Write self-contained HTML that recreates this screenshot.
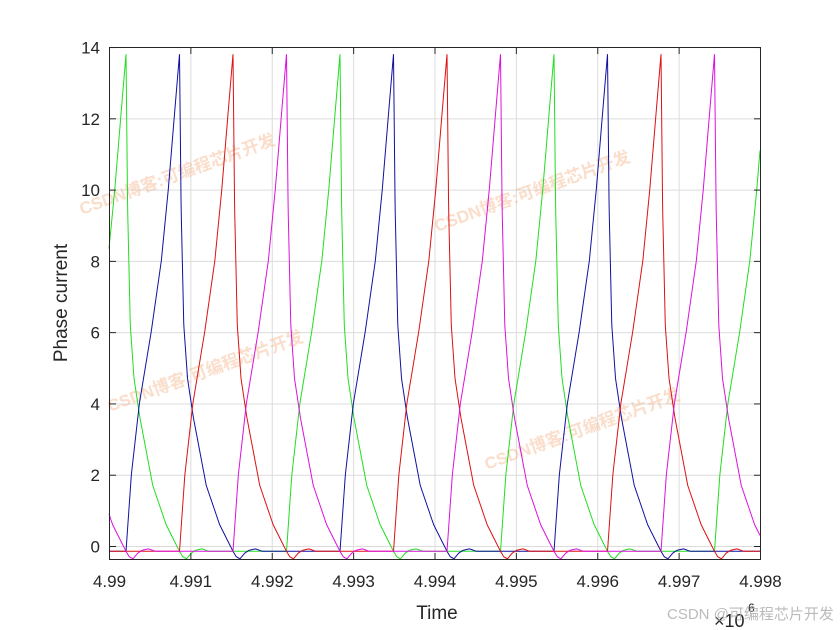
<!DOCTYPE html>
<html><head><meta charset="utf-8"><style>
html,body{margin:0;padding:0;background:#fff;}
svg{display:block;font-family:"Liberation Sans","Noto Sans CJK SC",sans-serif;}
</style></head><body>
<svg id="s" width="840" height="630" viewBox="0 0 840 630" xmlns="http://www.w3.org/2000/svg">
<rect width="840" height="630" fill="#fff"/>
<g id="grid" stroke="#dcdcdc" stroke-width="1"></g>
<g id="wm" fill="#f3b48a" opacity="0.45" font-size="17" font-weight="bold">
<text transform="translate(82,215) rotate(-20)">CSDN博客:可编程芯片开发</text>
<text transform="translate(437,232) rotate(-20)">CSDN博客:可编程芯片开发</text>
<text transform="translate(110,412) rotate(-20)">CSDN博客:可编程芯片开发</text>
<text transform="translate(487,470) rotate(-20)">CSDN博客:可编程芯片开发</text>
</g>
<g id="series" fill="none" stroke-width="1"></g>
<rect x="109.5" y="47.5" width="651" height="512" fill="none" stroke="#262626" stroke-width="1"/>
<g id="ticks" stroke="#262626" stroke-width="1"></g>
<g id="labels" fill="#262626" font-size="17"></g>
<text x="437" y="619" font-size="19" fill="#262626" text-anchor="middle">Time</text>
<text transform="translate(67,303) rotate(-90)" font-size="19" fill="#262626" text-anchor="middle">Phase current</text>
<text x="714" y="627" font-size="18" fill="#262626">×10</text>
<text x="748" y="612" font-size="12" fill="#262626">6</text>
<text x="667" y="619" font-size="15" fill="#b0b0b0" opacity="0.85">CSDN @可编程芯片开发</text>
</svg>
<script>
var X0=109,X1=760,Y0=546,PY=35.64,ns="http://www.w3.org/2000/svg";
function el(t,a,p){var e=document.createElementNS(ns,t);for(var k in a)e.setAttribute(k,a[k]);p.appendChild(e);return e;}
var g=document.getElementById('grid'),tk=document.getElementById('ticks'),lb=document.getElementById('labels');
var xl=['4.99','4.991','4.992','4.993','4.994','4.995','4.996','4.997','4.998'];
for(var i=0;i<9;i++){var x=X0+i*(X1-X0)/8+0.5;
 if(i>0&&i<8)el('line',{x1:x,y1:48,x2:x,y2:559},g);
 el('line',{x1:x,y1:559,x2:x,y2:553},tk);el('line',{x1:x,y1:48,x2:x,y2:54},tk);
 var t=el('text',{x:x,y:587,'text-anchor':'middle'},lb);t.textContent=xl[i];}
for(var v=0;v<=14;v+=2){var y=Y0-v*PY+0.5;
 if(v<14)el('line',{x1:110,y1:y,x2:760,y2:y},g);
 el('line',{x1:110,y1:y,x2:116,y2:y},tk);el('line',{x1:760,y1:y,x2:754,y2:y},tk);
 var t=el('text',{x:100,y:y+6,'text-anchor':'end'},lb);t.textContent=v;}
function interp(pts,s){for(var i=1;i<pts.length;i++){if(s<=pts[i][0]){var a=pts[i-1],b=pts[i];return a[1]+(b[1]-a[1])*(s-a[0])/(b[0]-a[0]);}}return pts[pts.length-1][1];}
var rise=[[0,-0.15],[0.1,2],[0.25,4],[0.47,6],[0.66,8],[0.79,10],[0.9,12],[1,13.8]];
var dec=[[0,13.8],[0.03,9.5],[0.08,6.2],[0.15,4.7],[0.26,3.6],[0.5,1.7],[0.75,0.6],[1,-0.15],[1.06,-0.3],[1.13,-0.36],[1.22,-0.2],[1.3,-0.12],[1.42,-0.08],[1.55,-0.15],[4,-0.15]];
var L=53.5,P=214;
function val(x,t0){var u=((x-t0)%P+P)%P;if(u<L)return interp(rise,u/L);return interp(dec,(u-L)/L);}
var cols=[['#22dd22',72.5],['#1010a0',126],['#dd1010',179.5],['#dd10dd',233]];
var sg=document.getElementById('series');
cols.forEach(function(c){var d='';for(var x=X0;x<=X1;x+=0.25){var y=Y0-val(x,c[1])*PY;d+=(x==X0?'M':'L')+x.toFixed(2)+' '+y.toFixed(1);}
 el('path',{d:d,stroke:c[0]},sg);});
</script>
</body></html>
